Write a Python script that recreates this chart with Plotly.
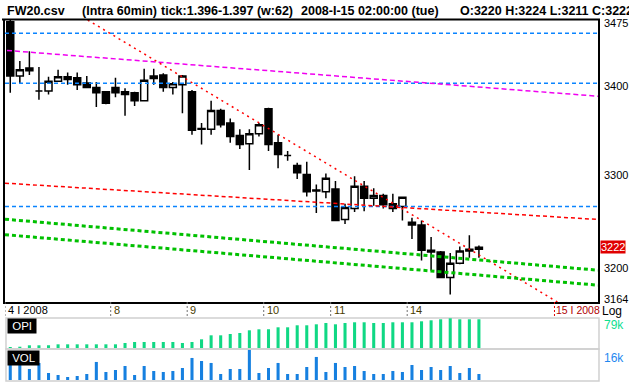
import math
import plotly.graph_objects as go

# ---------------- data ----------------
bars = list(range(50))
opens = [3473, 3411, 3420, 3394, 3394, 3405, 3410, 3409, 3403, 3398,
         3393, 3398, 3393, 3392, 3383, 3408, 3412, 3398, 3401, 3393,
         3352, 3351, 3372, 3358, 3344, 3335, 3346, 3374, 3336, 3322,
         3311, 3301, 3284, 3282, 3285, 3252, 3264, 3288, 3275, 3278,
         3269, 3266, 3249, 3246, 3219, 3217, 3190, 3205, 3220, 3220]
highs = [3475, 3428, 3439, 3421, 3410, 3418, 3415, 3415, 3411, 3404,
         3394, 3409, 3397, 3393, 3419, 3419, 3414, 3404, 3412, 3395,
         3358, 3383, 3374, 3363, 3351, 3351, 3358, 3375, 3345, 3327,
         3314, 3315, 3290, 3302, 3294, 3269, 3299, 3294, 3286, 3280,
         3280, 3276, 3254, 3251, 3233, 3218, 3216, 3223, 3235, 3224]
lows = [3392, 3403, 3412, 3384, 3390, 3404, 3401, 3395, 3397, 3376,
        3379, 3387, 3366, 3377, 3382, 3401, 3393, 3390, 3369, 3345,
        3334, 3345, 3353, 3336, 3329, 3306, 3343, 3327, 3308, 3316,
        3296, 3277, 3259, 3275, 3250, 3247, 3260, 3261, 3267, 3264,
        3260, 3251, 3231, 3208, 3197, 3189, 3172, 3204, 3211, 3211]
closes = [3411, 3418, 3417, 3394, 3405, 3410, 3407, 3401, 3398, 3392,
          3380, 3392, 3390, 3383, 3406, 3411, 3398, 3402, 3411, 3350,
          3351, 3372, 3356, 3343, 3334, 3346, 3356, 3334, 3323, 3322,
          3303, 3282, 3283, 3297, 3251, 3265, 3288, 3275, 3278, 3268,
          3264, 3276, 3246, 3219, 3217, 3190, 3205, 3218, 3218, 3222]

opi = [69330, 69430, 69900, 69900, 69900, 70230, 70230, 70230, 70230, 70230,
       70230, 70230, 70670, 71000, 71000, 71000, 71000, 71000, 70670, 71000,
       71900, 73230, 73230, 73670, 74000, 74900, 75230, 75230, 75900, 75900,
       76570, 76570, 76900, 77330, 76900, 77330, 77570, 77570, 77330, 77330,
       77570, 77570, 77570, 77900, 78230, 78570, 78900, 78570, 78570, 78570]
vol = [8000, 8000, 5870, 9070, 3730, 2670, 1600, 2130, 3200, 9600,
       4270, 5330, 7470, 2670, 7470, 4800, 4270, 4800, 6400, 11730,
       10130, 9070, 3200, 5870, 5870, 16000, 3730, 6400, 9070, 3200,
       3200, 6930, 12270, 4270, 9070, 6930, 7470, 4800, 3200, 3200,
       4800, 4270, 8000, 5330, 6930, 5330, 7470, 3730, 6400, 3200]

day_pos = [-0.55, 10.5, 18.5, 26.5, 33.5, 41.5]
day_text = ["4 I 2008", "8", "9", "10", "11", "14"]
next_day_pos = 56.9
next_day_text = "15 I 2008"

price_ticks = [3475, 3400, 3300, 3200, 3164]
y_min, y_max = 3164, 3475
x_min, x_max = -0.55, 61.45
opi_range = [69000, 79000]
vol_range = [0, 16500]

blue_levels = [3459.6, 3402.6, 3266.1]
magenta_x, magenta_p = [-0.34, 61.45], [3440, 3388]
red_steep_x, red_steep_p = [8.1, 57.2], [3475, 3164]
red_flat_x, red_flat_p = [-0.55, 61.45], [3291.5, 3252]
green_up_x, green_up_p = [-0.55, 61.45], [3252.3, 3197.6]
green_lo_x, green_lo_p = [-0.55, 61.45], [3235.6, 3181.7]

title_parts = ["FW20.csv", "(Intra 60min)", "tick:1.396-1.397 (w:62)",
               "2008-I-15 02:00:00 (tue)", "O:3220 H:3224 L:3211 C:3222"]

# ---------------- geometry helpers ----------------
W, H = 629, 384
ML, MR, MT, MB = 3, 31, 20, 4
PW, PH = W - ML - MR, H - MT - MB


def px(x):
    return (x - ML) / PW


def py(y):
    return (H - MB - y) / PH


FONT = "Liberation Sans"

fig = go.Figure()

fig.add_trace(go.Candlestick(
    x=bars, open=opens, high=highs, low=lows, close=closes,
    increasing=dict(line=dict(color="black", width=1.5), fillcolor="white"),
    decreasing=dict(line=dict(color="black", width=1.5), fillcolor="black"),
    xaxis="x", yaxis="y", showlegend=False, hoverinfo="skip"))

for lvl in blue_levels:
    fig.add_trace(go.Scatter(x=[x_min, x_max], y=[lvl, lvl], mode="lines",
                             line=dict(color="#0a84ff", width=1.5, dash="4px,3px"),
                             xaxis="x", yaxis="y", showlegend=False, hoverinfo="skip"))

fig.add_trace(go.Scatter(x=magenta_x, y=magenta_p, mode="lines",
                         line=dict(color="#f000f0", width=1.5, dash="5px,3px"),
                         showlegend=False, hoverinfo="skip"))
fig.add_trace(go.Scatter(x=red_flat_x, y=red_flat_p, mode="lines",
                         line=dict(color="#ff0000", width=1.5, dash="4px,3px"),
                         showlegend=False, hoverinfo="skip"))
fig.add_trace(go.Scatter(x=red_steep_x, y=red_steep_p, mode="lines",
                         line=dict(color="#ff0000", width=1.5, dash="2px,4px"),
                         showlegend=False, hoverinfo="skip"))
fig.add_trace(go.Scatter(x=green_up_x, y=green_up_p, mode="lines",
                         line=dict(color="#00c000", width=3, dash="4px,3px"),
                         showlegend=False, hoverinfo="skip"))
fig.add_trace(go.Scatter(x=green_lo_x, y=green_lo_p, mode="lines",
                         line=dict(color="#00c000", width=3, dash="4px,3px"),
                         showlegend=False, hoverinfo="skip"))

fig.add_trace(go.Bar(x=bars, y=opi, width=0.32, marker=dict(color="#10d884", line=dict(width=0)),
                     xaxis="x", yaxis="y2", showlegend=False, hoverinfo="skip"))
fig.add_trace(go.Bar(x=bars, y=vol, width=0.32, marker=dict(color="#1680e0", line=dict(width=0)),
                     xaxis="x", yaxis="y3", showlegend=False, hoverinfo="skip"))

shapes = []
# title underline
shapes.append(dict(type="line", xref="paper", yref="paper", x0=px(0), x1=px(600),
                   y0=py(19.5), y1=py(19.5), line=dict(color="black", width=2)))
# panel frames
for top, bot in [(318, 349), (349, 381)]:
    shapes.append(dict(type="rect", xref="paper", yref="paper", x0=px(4), x1=px(599),
                       y0=py(bot), y1=py(top), line=dict(color="#d0d0d0", width=1.5),
                       layer="below"))
# day separators
for p in day_pos:
    shapes.append(dict(type="line", xref="x", yref="paper", x0=p, x1=p,
                       y0=py(302), y1=py(317), line=dict(color="#707070", width=1, dash="2px,2px")))
shapes.append(dict(type="line", xref="x", yref="paper", x0=next_day_pos, x1=next_day_pos,
                   y0=py(302), y1=py(318), line=dict(color="#e00000", width=1, dash="2px,2px")))

ann = []
title_x = [3, 78, 158, 298, 458]
for t, x in zip(title_parts, title_x):
    ann.append(dict(text=t, xref="paper", yref="paper", x=px(x), y=py(10.5),
                    xanchor="left", yanchor="middle", showarrow=False,
                    font=dict(family=FONT, size=12.5, color="black", weight="bold")))
for p, t in zip(day_pos, day_text):
    ann.append(dict(text=t, xref="x", yref="paper", x=p, y=py(310), xanchor="left",
                    yanchor="middle", xshift=1, showarrow=False,
                    font=dict(family=FONT, size=11, color="black" if t == day_text[0] else "#4a3c00")))
ann.append(dict(text=next_day_text, xref="x", yref="paper", x=next_day_pos, y=py(310),
                xanchor="left", yanchor="middle", xshift=0, showarrow=False,
                font=dict(family=FONT, size=10.5, color="#b00000")))
ann.append(dict(text="Log", xref="paper", yref="paper", x=px(600), y=py(311), xanchor="left",
                yanchor="middle", showarrow=False, font=dict(family=FONT, size=12, color="black")))
ann.append(dict(text="79k", xref="paper", yref="paper", x=px(626), y=py(325), xanchor="right",
                yanchor="middle", showarrow=False, font=dict(family=FONT, size=12, color="#10e090")))
ann.append(dict(text="16k", xref="paper", yref="paper", x=px(626), y=py(358), xanchor="right",
                yanchor="middle", showarrow=False, font=dict(family=FONT, size=12, color="#1e88f0")))
# price scale labels (placed on the log axis; edge labels nudged inside like the original)
for v in price_ticks:
    shift = -3 if v == y_max else (3 if v == y_min else 0)
    ann.append(dict(text=str(v), xref="paper", yref="y", x=px(602), y=math.log10(v), yshift=shift,
                    xanchor="left", yanchor="middle", showarrow=False,
                    font=dict(family=FONT, size=11, color="black")))
ann.append(dict(text=str(closes[-1]), xref="paper", yref="y", x=px(600), y=math.log10(closes[-1]),
                xanchor="left", yanchor="middle", showarrow=False, bgcolor="#e00000", borderpad=0,
                font=dict(family=FONT, size=11, color="white")))
for label, y0 in [("OPI", 326), ("VOL", 358)]:
    ann.append(dict(text=" " + label + " ", xref="paper", yref="paper", x=px(5), y=py(y0),
                    xanchor="left", yanchor="middle", showarrow=False, bgcolor="black", borderpad=1,
                    font=dict(family=FONT, size=11.5, color="white")))

fig.update_layout(
    width=W, height=H,
    margin=dict(l=ML, r=MR, t=MT, b=MB),
    paper_bgcolor="white", plot_bgcolor="white",
    showlegend=False,
    boxgap=0.27, boxgroupgap=0,
    xaxis=dict(range=[x_min, x_max], showgrid=False, zeroline=False, showticklabels=False,
               ticks="", showline=True, linecolor="black", linewidth=2,
               rangeslider=dict(visible=False), anchor="y", fixedrange=True),
    yaxis=dict(domain=[py(302), 1], type="log",
               range=[math.log10(y_min), math.log10(y_max)],
               side="right", showticklabels=False,
               showgrid=False, zeroline=False, showline=True, mirror=True,
               linecolor="black", linewidth=2, ticks="", fixedrange=True),
    yaxis2=dict(domain=[py(348), py(318)], range=opi_range, visible=False, anchor="x"),
    yaxis3=dict(domain=[0, py(349)], range=vol_range, visible=False, anchor="x"),
    shapes=shapes, annotations=ann,
)

fig.write_html("out.html", config={"displayModeBar": False},
               post_script="document.body.style.margin='0px';document.body.style.overflow='hidden';")
